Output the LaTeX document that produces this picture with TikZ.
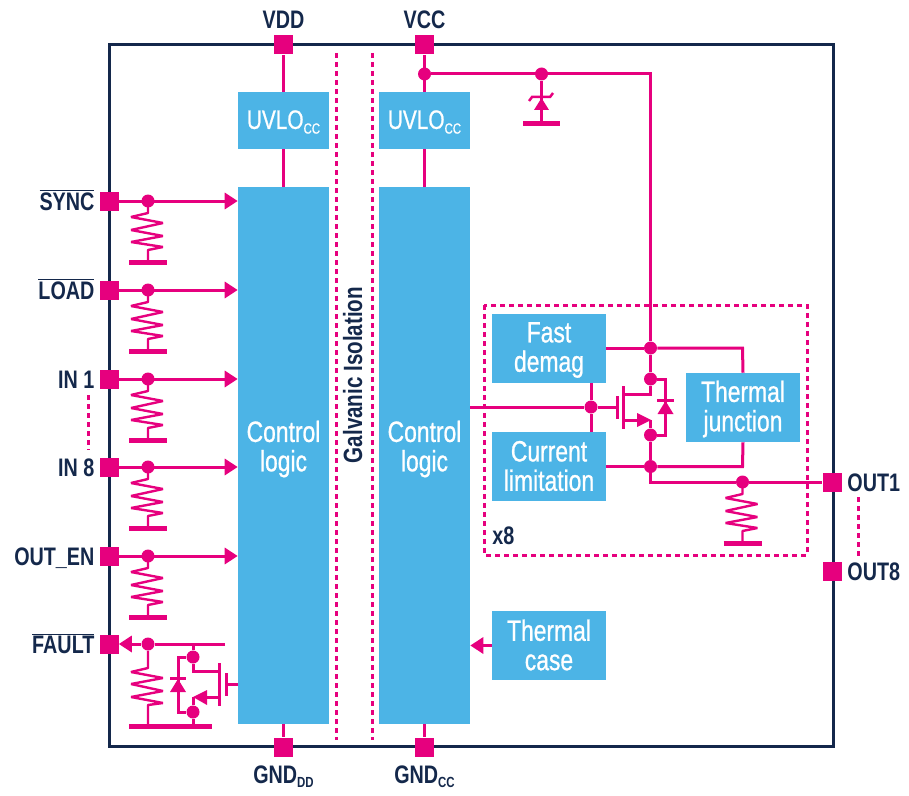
\documentclass[tikz,border=0pt]{standalone}
\usepackage{fontspec}
\setmainfont[FakeStretch=0.78,FakeBold=0.8]{Liberation Sans}
\newfontfamily\labelfont[FakeStretch=0.78]{Liberation Sans Bold}
\usetikzlibrary{positioning, arrows.meta}

\definecolor{custompink}{HTML}{E6007E}
\definecolor{customblue}{HTML}{4CB4E6}
\definecolor{customnavy}{HTML}{14284B}
\def\px{0.75pt}
\newcommand{\lowsub}[1]{\raisebox{-3.5pt}{\fontsize{11}{11}\selectfont #1}}

\begin{document}
\begin{tikzpicture}[x=0.75pt, y=-0.75pt]
  \tikzset{
    wire/.style={draw=custompink, line width=3*\px},
    coil/.style={draw=custompink, line width=2.4*\px, line join=bevel},
    arrow_wire/.style={wire, -{Triangle[length=13*\px, width=16*\px]}},
    dash_line/.style={draw=custompink, line width=3*\px, dash pattern=on 5*\px off 4*\px},
    pin_node/.style={rectangle, fill=custompink, inner sep=0pt, minimum size=19*\px},
    dot_node/.style={circle, fill=custompink, inner sep=0pt, minimum size=13*\px},
    blue_box/.style={rectangle, fill=customblue, inner sep=0pt, minimum width=#1*\px},
    box_text/.style={text=white, align=center, inner sep=0pt, font=\fontsize{22}{22}\selectfont},
    pin_label/.style={text=customnavy, inner sep=0pt, text height=13.6pt, text depth=0pt,
      font=\labelfont\fontsize{19}{19}\selectfont},
    ground_bar/.style={draw=custompink, line width=5*\px},
    tip_fill/.style={fill=custompink, draw=none},
    resistor/.pic={
      \draw[coil] (0,0) -- (0,12) -- (-17,16) -- (15,22) -- (-17,29) -- (15,35)
        -- (-17,41) -- (15,46) -- (0,49) -- (0,61);
      \draw[ground_bar] (-19,61) -- (19,61);
    }
  }
  \useasboundingbox (0,0) rectangle (909,795);

  % Outer frame and isolation barrier
  \draw[customnavy, line width=3*\px] (109,45) rectangle (833,746);
  \draw[dash_line] (336,53) -- (336,740);
  \draw[dash_line] (372,53) -- (372,740);
  \draw[dash_line] (484,305) rectangle (807,555);

  % Blue blocks
  \node[blue_box=91, minimum height=57*\px] (uvlo_left) at (283.5,120.5) {};
  \node[blue_box=91, minimum height=57*\px] (uvlo_right) at (424.5,120.5) {};
  \node[blue_box=91, minimum height=537*\px] (ctrl_left) at (283.5,455.5) {};
  \node[blue_box=91, minimum height=537*\px] (ctrl_right) at (424.5,455.5) {};
  \node[blue_box=114, minimum height=69*\px] (fast_demag) at (549,348.5) {};
  \node[blue_box=114, minimum height=69*\px] (curr_limit) at (549,466.5) {};
  \node[blue_box=114, minimum height=69*\px] (therm_junc) at (743,407.5) {};
  \node[blue_box=114, minimum height=69*\px] (therm_case) at (549,645.5) {};

  % Text of the blocks
  \node[box_text, font=\fontsize{20}{20}\selectfont] (uvlo_left_text) at (283.5,122) {UVLO\lowsub{CC}};
  \node[box_text, font=\fontsize{20}{20}\selectfont] (uvlo_right_text) at (424.5,122) {UVLO\lowsub{CC}};
  \node[box_text] (ctrl_left_text) at (283.5,449) {Control\\logic};
  \node[box_text] (ctrl_right_text) at (424.5,449) {Control\\logic};
  \node[box_text] (fast_demag_text) at (549,350) {Fast\\demag};
  \node[box_text] (curr_limit_text) at (549,466) {Current\\limitation};
  \node[box_text] (therm_junc_text) at (743,409) {Thermal\\junction};
  \node[box_text] (therm_case_text) at (549,645) {Thermal\\case};
  \node[pin_label, rotate=90, font=\labelfont\fontsize{19.8}{20}\selectfont] (galvanic) at (353,375) {Galvanic Isolation};
  \node[pin_label, anchor=west] (x_eight) at (492,535) {x8};

  % Top and bottom pins
  \node[pin_node] (vdd) at (283.5,45) {};
  \node[pin_node] (vcc) at (424.5,45) {};
  \node[pin_node] (gnd_dd) at (283.5,747) {};
  \node[pin_node] (gnd_cc) at (424.5,747) {};
  \node[pin_label, above=5pt of vdd] (vdd_label) {VDD};
  \node[pin_label, above=5pt of vcc] (vcc_label) {VCC};
  \node[pin_label, below=6pt of gnd_dd] (gnd_dd_label) {GND\lowsub{DD}};
  \node[pin_label, below=6pt of gnd_cc] (gnd_cc_label) {GND\lowsub{CC}};
  \draw[wire] (vdd) -- (uvlo_left);
  \draw[wire] (uvlo_left) -- (ctrl_left);
  \draw[wire] (vcc) -- (uvlo_right);
  \draw[wire] (uvlo_right) -- (ctrl_right);
  \draw[wire] (ctrl_left) -- (gnd_dd);
  \draw[wire] (ctrl_right) -- (gnd_cc);

  % Left inputs
  \foreach \pname/\ypos/\ptext in {sync/201/{$\overline{\mbox{SYNC}}$}, load/290/{$\overline{\mbox{LOAD}}$},
      in_one/379/{IN 1}, in_eight/467/{IN 8}, out_en/556/{OUT\_EN}} {
    \node[pin_node] (\pname) at (109,\ypos) {};
    \node[dot_node] (\pname_dot) at (148,\ypos) {};
    \node[pin_label, left=3.4pt of \pname] (\pname_label) {\ptext};
    \draw[arrow_wire] (\pname) -- (ctrl_left.west |- \pname);
    \pic at (\pname_dot.center) {resistor};
  }
  \coordinate (in_top) at (88,395);
  \coordinate (in_bottom) at (88,450);
  \draw[dash_line] (in_top) -- (in_bottom);

  % Fault output stage
  \node[pin_node] (fault) at (109,644) {};
  \node[pin_label, left=3.4pt of fault] (fault_label) {$\overline{\mbox{FAULT}}$};
  \node[dot_node] (fault_dot) at (148,644) {};
  \node[dot_node] (fault_drain) at (193,657) {};
  \node[dot_node] (fault_source) at (193,712) {};
  \coordinate (fault_end) at (225,644);
  \coordinate (fault_tap) at (193,644);
  \coordinate (fault_gnd) at (148,726);
  \coordinate (fault_rail) at (193,726);
  \draw[wire] (fault_end) -- (fault_dot);
  \draw[arrow_wire] (fault_dot) -- (fault);
  \draw[coil] (fault_dot) -- (148,668) -- (131,672) -- (163,678) -- (131,684) -- (163,691)
    -- (131,697) -- (163,703) -- (148,705) -- (fault_gnd);
  \draw[ground_bar] (129,726) -- (212,726);
  \draw[wire] (fault_tap) -- (fault_drain);
  \draw[wire] (fault_drain) -- (193,671) -- (219,671);
  \draw[wire] (fault_source) -- (fault_rail);
  \draw[wire] (fault_source) -- (193,697);
  \draw[wire] (fault_drain) -- (178,657) -- (178,712) -- (fault_source);
  \draw[wire] (170,678) -- (186,678);
  \fill[tip_fill] (178,679) -- (170,692) -- (186,692) -- cycle;
  \draw[wire] (207,697) -- (219,697);
  \fill[tip_fill] (193,697) -- (207,690) -- (207,705) -- cycle;
  \draw[wire] (219.5,663) -- (219.5,706);
  \draw[wire] (226.5,673) -- (226.5,696);
  \draw[wire] (226.5,684.5) -- (ctrl_left.west |- 0,684.5);

  % Supply and clamp
  \node[dot_node] (vcc_dot) at (424.5,74) {};
  \node[dot_node] (clamp_dot) at (541.5,74) {};
  \node[dot_node] (fast_dot) at (650.5,348) {};
  \coordinate (clamp_end) at (541.5,124);
  \draw[wire] (vcc_dot) -- (650.5,74) -- (fast_dot);
  \draw[wire] (clamp_dot) -- (clamp_end);
  \draw[ground_bar] (523,124) -- (560,124);
  \draw[wire, line width=2.5*\px] (529,101) -- (532,97) -- (550,97) -- (553,93);
  \fill[tip_fill] (541.5,98) -- (534,110) -- (549,110) -- cycle;

  % Output stage
  \node[dot_node] (drain_dot) at (650.5,379) {};
  \node[dot_node] (source_dot) at (650.5,435) {};
  \node[dot_node] (limit_dot) at (650.5,466.5) {};
  \node[dot_node] (gate_dot) at (591,407) {};
  \node[dot_node] (out_dot) at (742.5,482) {};
  \node[pin_node] (out_one) at (832,482) {};
  \node[pin_node] (out_eight) at (832,571) {};
  \node[pin_label, right=4pt of out_one] (out_one_label) {OUT1};
  \node[pin_label, right=4pt of out_eight] (out_eight_label) {OUT8};
  \coordinate (out_top) at (858.5,497);
  \coordinate (out_bottom) at (858.5,556);
  \draw[dash_line] (out_top) -- (out_bottom);
  \draw[wire] (fast_demag.east |- fast_dot) -- (fast_dot);
  \draw[wire] (fast_dot) -- (742.5,348) -- (therm_junc.north);
  \draw[wire] (curr_limit.east |- limit_dot) -- (limit_dot);
  \draw[wire] (limit_dot) -- (742.5,466.5) -- (therm_junc.south);
  \draw[wire] (fast_dot) -- (drain_dot);
  \draw[wire] (source_dot) -- (limit_dot);
  \draw[wire] (limit_dot) -- (650.5,482) -- (out_dot);
  \draw[wire] (out_dot) -- (out_one);
  \pic at (out_dot.center) {resistor};
  \draw[wire] (ctrl_right.east |- gate_dot) -- (gate_dot);
  \draw[wire] (gate_dot) -- (617,407);
  \draw[wire] (fast_demag.south -| gate_dot) -- (gate_dot);
  \draw[wire] (curr_limit.north -| gate_dot) -- (gate_dot);
  \draw[wire] (617,396) -- (617,419);
  \draw[wire] (623.5,386) -- (623.5,429);
  \draw[wire] (623.5,394) -- (650.5,394) -- (drain_dot);
  \draw[wire] (623.5,420) -- (637,420);
  \fill[tip_fill] (651,420) -- (637,413) -- (637,427) -- cycle;
  \draw[wire] (650.5,420) -- (source_dot);
  \draw[wire] (drain_dot) -- (665.5,379) -- (665.5,435) -- (source_dot);
  \draw[wire] (657,400) -- (674,400);
  \fill[tip_fill] (665.5,401) -- (657.5,414) -- (673.5,414) -- cycle;

  % Thermal case sensor
  \draw[arrow_wire] (therm_case) -- (ctrl_right.east |- therm_case);
\end{tikzpicture}
\end{document}
